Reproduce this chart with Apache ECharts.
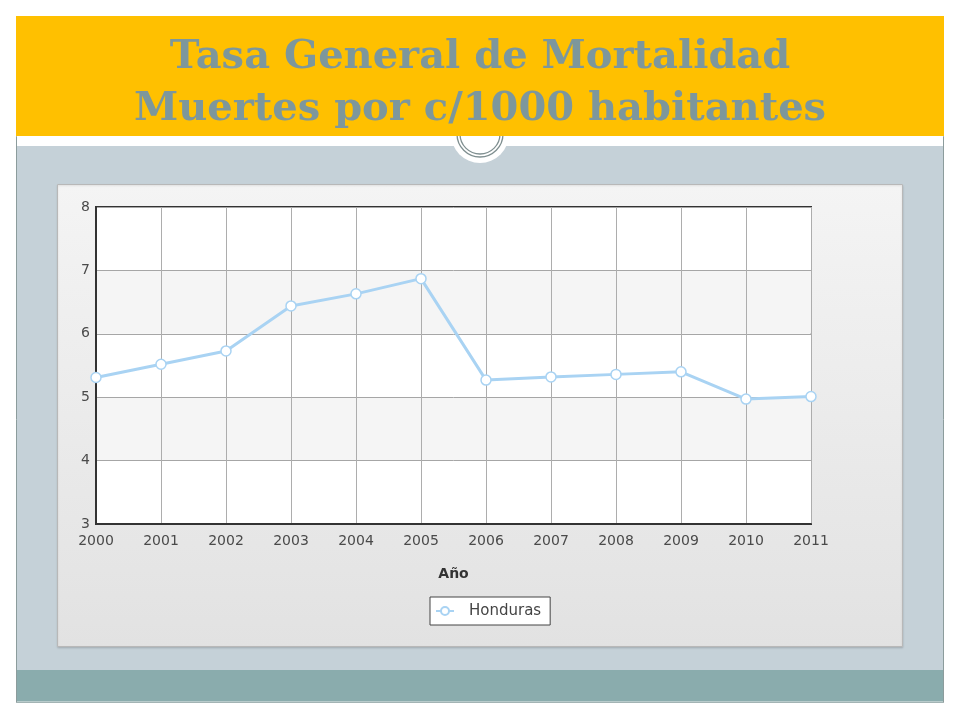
<!DOCTYPE html>
<html>
<head>
<meta charset="utf-8">
<script src="https://cdn.jsdelivr.net/npm/echarts@6/dist/echarts.min.js"></script>
<style>
html,body{margin:0;padding:0;background:#fff;}
#chart{width:960px;height:720px;}
</style>
</head>
<body>
<div id="chart"></div>
<script>
const titleLines = ['Tasa General de Mortalidad', 'Muertes por c/1000 habitantes'];
const years = ['2000','2001','2002','2003','2004','2005','2006','2007','2008','2009','2010','2011'];
const honduras = [5.31, 5.52, 5.73, 6.44, 6.63, 6.87, 5.27, 5.32, 5.36, 5.40, 4.97, 5.01];
const seriesName = 'Honduras';
const xAxisName = 'Año';
const yMin = 3, yMax = 8, yStep = 1;

const chart = echarts.init(document.getElementById('chart'), null, {renderer: 'canvas'});
const lineColor = '#A9D3F3';
const labelFont = 'DejaVu Sans';

chart.setOption({
  animation: false,
  backgroundColor: '#ffffff',
  title: {
    text: titleLines.join('\n'),
    left: 'center',
    top: 27,
    textStyle: {
      fontFamily: 'DejaVu Serif',
      fontWeight: 'bold',
      fontSize: 40,
      lineHeight: 52,
      color: '#7D979C'
    }
  },
  graphic: [
    {type: 'rect', z: 0, shape: {x: 16.5, y: 136.5, width: 927, height: 566}, style: {fill: '#C5D1D8', stroke: '#8C9C9C', lineWidth: 1}},
    {type: 'rect', z: 1, shape: {x: 17, y: 136, width: 926, height: 10}, style: {fill: '#ffffff'}},
    {type: 'rect', z: 1, shape: {x: 17, y: 670, width: 926, height: 32}, style: {fill: '#8AACAD'}},
    {type: 'rect', z: 1, shape: {x: 17, y: 701, width: 926, height: 1.5}, style: {fill: '#B9CCCC'}},
    {type: 'circle', z: 2, shape: {cx: 480, cy: 134, r: 29}, style: {fill: '#ffffff'}},
    {type: 'circle', z: 3, shape: {cx: 480, cy: 134, r: 23}, style: {fill: 'none', stroke: '#7F8F90', lineWidth: 1.3}},
    {type: 'circle', z: 3, shape: {cx: 480, cy: 134, r: 20}, style: {fill: 'none', stroke: '#7F8F90', lineWidth: 1.3}},
    {type: 'rect', z: 4, shape: {x: 16, y: 16, width: 928, height: 120}, style: {fill: '#FFC000'}},
    {type: 'rect', z: 5, shape: {x: 57.5, y: 184.5, width: 845, height: 462},
      style: {
        fill: new echarts.graphic.LinearGradient(0, 0, 0, 1, [
          {offset: 0, color: '#F4F4F4'}, {offset: 1, color: '#E2E2E2'}
        ]),
        stroke: '#B8B8B8', lineWidth: 1,
        shadowColor: 'rgba(0,0,0,0.12)', shadowBlur: 2, shadowOffsetY: 1
      }}
  ],
  grid: {
    left: 96, right: 149, top: 207, bottom: 196,
    show: true,
    backgroundColor: '#ffffff',
    borderColor: '#333333',
    borderWidth: 2,
    z: 6
  },
  legend: {
    data: [seriesName],
    left: 430,
    top: 597,
    orient: 'horizontal',
    backgroundColor: '#ffffff',
    borderColor: '#444444',
    borderWidth: 1,
    borderRadius: 0,
    padding: [6, 9, 6, 5],
    itemWidth: 18,
    itemHeight: 10,
    z: 10,
    textStyle: {
      fontFamily: labelFont,
      fontSize: 15,
      color: '#444444',
      padding: [0, 0, 0, 10],
      lineHeight: 16
    }
  },
  xAxis: {
    type: 'category',
    data: years,
    boundaryGap: false,
    name: xAxisName,
    nameLocation: 'middle',
    nameGap: 43,
    nameTextStyle: {fontFamily: labelFont, fontWeight: 'bold', fontSize: 14, color: '#333333'},
    axisLine: {show: true, lineStyle: {color: '#333333', width: 2}},
    axisTick: {show: false},
    axisLabel: {fontFamily: labelFont, fontSize: 14, color: '#4a4a4a', margin: 10, interval: 0},
    splitLine: {show: true, lineStyle: {color: '#ADADAD', width: 1}},
    z: 7
  },
  yAxis: {
    type: 'value',
    min: yMin,
    max: yMax,
    interval: yStep,
    axisLine: {show: true, lineStyle: {color: '#333333', width: 2}},
    axisTick: {show: false},
    axisLabel: {fontFamily: labelFont, fontSize: 14, color: '#4a4a4a', margin: 6},
    splitLine: {show: true, lineStyle: {color: '#A6A6A6', width: 1}},
    splitArea: {show: true, areaStyle: {color: ['#ffffff', '#F5F5F5']}},
    z: 7
  },
  series: [{
    name: seriesName,
    type: 'line',
    data: honduras,
    z: 8,
    symbol: 'circle',
    symbolSize: 10,
    showAllSymbol: true,
    lineStyle: {color: lineColor, width: 3},
    itemStyle: {color: '#ffffff', borderColor: lineColor, borderWidth: 1.5},
    emphasis: {disabled: true}
  }]
});
</script>
</body>
</html>
